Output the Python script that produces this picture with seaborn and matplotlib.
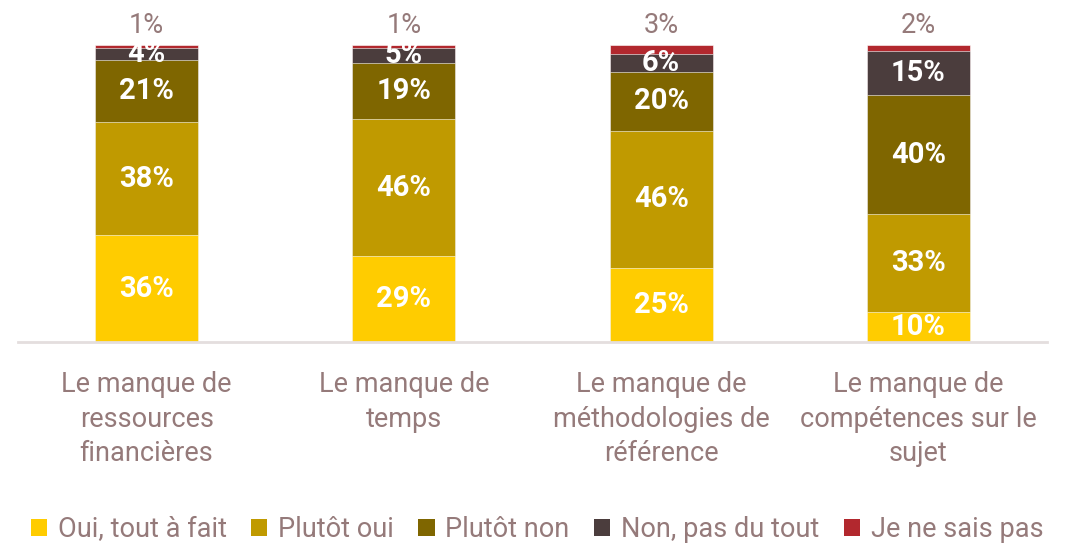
import matplotlib
matplotlib.use("Agg")
import matplotlib.pyplot as plt
from matplotlib.patches import Patch
import numpy as np
import pandas as pd
import seaborn as sns

# Données (en %)
categories = [
    "Le manque de\nressources\nfinancières",
    "Le manque de\ntemps",
    "Le manque de\nméthodologies de\nréférence",
    "Le manque de\ncompétences sur le\nsujet",
]
series = ["Oui, tout à fait", "Plutôt oui", "Plutôt non", "Non, pas du tout", "Je ne sais pas"]
oui_tout_a_fait = [36, 29, 25, 10]
plutot_oui = [38, 46, 46, 33]
plutot_non = [21, 19, 20, 40]
non_pas_du_tout = [4, 5, 6, 15]
ne_sais_pas = [1, 1, 3, 2]

colors = ["#FFCC00", "#C09A00", "#7F6600", "#4B3D3D", "#B2282E"]
text_color = "#957A7A"

sns.set_style("white")
plt.rcParams["font.family"] = ["Roboto", "DejaVu Sans"]

values = np.array([oui_tout_a_fait, plutot_oui, plutot_non, non_pas_du_tout, ne_sais_pas])
cumul = values.cumsum(axis=0)

fig = plt.figure(figsize=(10.74, 5.43), dpi=100)
ax = fig.add_axes([18 / 1074, 201 / 543, 1029 / 1074, 297 / 543])

# Barres empilées : on trace les cumuls du plus haut au plus bas
for i in reversed(range(len(series))):
    df = pd.DataFrame({"cat": categories, "val": cumul[i]})
    sns.barplot(data=df, x="cat", y="val", color=colors[i], width=0.4,
                saturation=1, ax=ax, edgecolor="white", linewidth=0.4)

# Étiquettes
for j in range(len(categories)):
    for i in range(len(series) - 1):
        centre = cumul[i, j] - values[i, j] / 2
        ax.text(j, centre, f"{values[i, j]}%", ha="center", va="center",
                color="white", fontsize=21, fontweight="bold", clip_on=False)
    ax.text(j, 106.5, f"{values[-1, j]}%", ha="center", va="center",
            color=text_color, fontsize=19.5, clip_on=False)

ax.set_xlim(-0.5, 3.5)
ax.set_ylim(0, 100)
ax.set_xlabel("")
ax.set_ylabel("")
ax.set_yticks([])
ax.tick_params(axis="x", length=0, pad=21, labelsize=19.5, labelcolor=text_color)
for lab in ax.get_xticklabels():
    lab.set_linespacing(1.35)
for s in ["top", "right", "left"]:
    ax.spines[s].set_visible(False)
ax.spines["bottom"].set_color("#E4DEDE")
ax.spines["bottom"].set_linewidth(2)

handles = [Patch(facecolor=c, edgecolor="none") for c in colors]
fig.legend(handles, series, loc="lower center", bbox_to_anchor=(0.5, -0.045), ncol=5,
           frameon=False, fontsize=19.5, labelcolor=text_color, handlelength=0.6,
           handleheight=0.6, handletextpad=0.4, columnspacing=0.9)

fig.savefig("out.png", dpi=100)
